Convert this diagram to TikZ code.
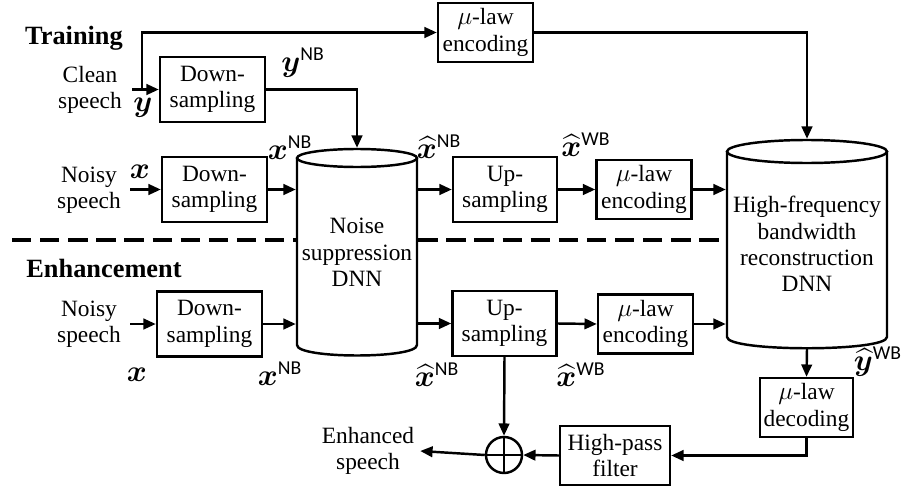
\documentclass[tikz,border=0pt]{standalone}
\usepackage{fontspec}
\setmainfont{Liberation Serif}
\newfontfamily\labsf{Carlito}
\usepackage{amsmath}
\usepackage{bm}
\usetikzlibrary{arrows.meta}

\newcommand{\sig}[2]{$\bm{#1}^{\text{\labsf #2}}$}
\newcommand{\hsig}[2]{$\widehat{\bm{#1}}^{\text{\labsf #2}}$}

\tikzset{
  blockbox/.style={draw, line width=1.4pt, inner sep=0pt, align=center,
    minimum width=2.1cm, minimum height=1.3cm},
  mubox/.style={blockbox, minimum width=1.9cm, minimum height=1.18cm},
  sigtxt/.style={inner sep=0pt, font=\fontsize{16}{16}\selectfont},
  stagetxt/.style={font=\fontsize{15}{17}\selectfont\bfseries},
  arr/.style={line width=1.4pt, -{Triangle[length=7pt,width=6pt]}},
  plainline/.style={line width=1.4pt},
}

\begin{document}
\begin{tikzpicture}[x=0.02cm, y=-0.02cm, font=\fontsize{13.3}{15}\selectfont]
    \useasboundingbox (0,0) rectangle (903,490);
    % stage titles
    \node[stagetxt] (train) at (74,38) {Training};
    \node[stagetxt] (enhance) at (104,268) {Enhancement};
    % training path
    \node[align=center] (clean) at (90,90) {Clean\\speech};
    \node[align=center] (noisyA) at (89,190) {Noisy\\speech};
    \node[blockbox] (dsA) at (212.5,89.5) {Down-\\sampling};
    \node[blockbox] (dsB) at (214.5,189.5) {Down-\\sampling};
    \node[mubox] (muA) at (485.5,32.5) {$\mu$-law\\encoding};
    \node[blockbox, draw=none, minimum width=2.4cm, minimum height=4.14cm] (ns) at (357,252.5) {Noise\\suppression\\DNN};
    \node[blockbox, minimum width=2.08cm] (upA) at (505,189.5) {Up-\\sampling};
    \node[mubox] (muB) at (644,189.5) {$\mu$-law\\encoding};
    \node[blockbox, draw=none, minimum width=3.2cm, minimum height=4.16cm] (hf) at (807,244) {High-frequency\\bandwidth\\reconstruction\\DNN};
    % enhancement path
    \node[align=center] (noisyB) at (89,324) {Noisy\\speech};
    \node[blockbox] (dsC) at (209.5,324) {Down-\\sampling};
    \node[blockbox, minimum width=2.08cm] (upB) at (504.5,323.5) {Up-\\sampling};
    \node[mubox] (muC) at (645.5,324) {$\mu$-law\\encoding};
    \node[mubox, minimum width=1.86cm] (mud) at (806.5,407.5) {$\mu$-law\\decoding};
    \node[mubox, minimum width=2.2cm] (hp) at (615,455.5) {High-pass\\filter};
    \node[draw, circle, line width=1.4pt, minimum size=0.72cm, inner sep=0pt] (sum) at (504,455) {};
    \node[align=center] (enh) at (368,451) {Enhanced\\speech};
    % cylinders
    \draw[plainline] (357,158) ellipse [x radius=60, y radius=9];
    \draw[plainline] (297,158) -- (297,345) .. controls (297,359) and (417,359) .. (417,345) -- (417,158);
    \draw[plainline] (807,151.5) ellipse [x radius=80, y radius=11.5];
    \draw[plainline] (727,151.5) -- (727,337) .. controls (727,352) and (887,352) .. (887,337) -- (887,151.5);
    \draw[plainline] (sum.north) -- (sum.south);
    \draw[plainline] (sum.west) -- (sum.east);
    % dashed split
    \coordinate (dl) at (12,240);
    \draw[line width=2pt, dash pattern=on 11pt off 5pt] (dl) -- (dl -| ns.west);
    \draw[line width=2pt, dash pattern=on 11pt off 5pt] (ns.east |- dl) -- (hf.west |- dl);
    % signal labels
    \node[sigtxt] (ylab) at (143,108) {$\bm{y}$};
    \node[sigtxt] (yNB) at (303,63) {\sig{y}{NB}};
    \node[sigtxt] (xlabA) at (140,172) {$\bm{x}$};
    \node[sigtxt] (xNBA) at (290,148) {\sig{x}{NB}};
    \node[sigtxt] (xhNBA) at (439,147) {\hsig{x}{NB}};
    \node[sigtxt] (xhWBA) at (586,145) {\hsig{x}{WB}};
    \node[sigtxt] (xlabB) at (137,375) {$\bm{x}$};
    \node[sigtxt] (xNBB) at (280,374) {\sig{x}{NB}};
    \node[sigtxt] (xhNBB) at (437,375) {\hsig{x}{NB}};
    \node[sigtxt] (xhWBB) at (581,375) {\hsig{x}{WB}};
    \node[sigtxt] (yhWB) at (878,362) {\hsig{y}{WB}};
    % connectors, training
    \coordinate (cin) at (132,89.5);
    \coordinate (cbr) at (142,89.5);
    \coordinate (nin) at (130,189.5);
    \draw[arr] (cin) -- (dsA.west);
    \draw[arr] (cbr) |- (muA.west);
    \draw[arr] (muA.east) -| (hf.north);
    \draw[arr] (dsA.east) -| (ns.north);
    \draw[arr] (nin) -- (dsB.west);
    \draw[arr] (dsB.east) -- (dsB.east -| ns.west);
    \draw[arr] (ns.east |- upA.west) -- (upA.west);
    \draw[arr] (upA.east) -- (muB.west);
    \draw[arr] (muB.east) -- (muB.east -| hf.west);
    % connectors, enhancement
    \coordinate (nenh) at (130,324);
    \draw[arr] (nenh) -- (dsC.west);
    \draw[arr] (dsC.east) -- (dsC.east -| ns.west);
    \draw[arr] (ns.east |- upB.west) -- (upB.west);
    \draw[arr] (upB.east) -- (muC.west);
    \draw[arr] (muC.east) -- (muC.east -| hf.west);
    \draw[arr] (hf.south) -- (mud.north);
    \draw[arr] (mud.south) |- (hp.east);
    \draw[arr] (hp.west) -- (sum.east);
    \draw[arr] (upB.south) -- (sum.north);
    \draw[arr] (sum.west) -- (enh.east);
\end{tikzpicture}
\end{document}
